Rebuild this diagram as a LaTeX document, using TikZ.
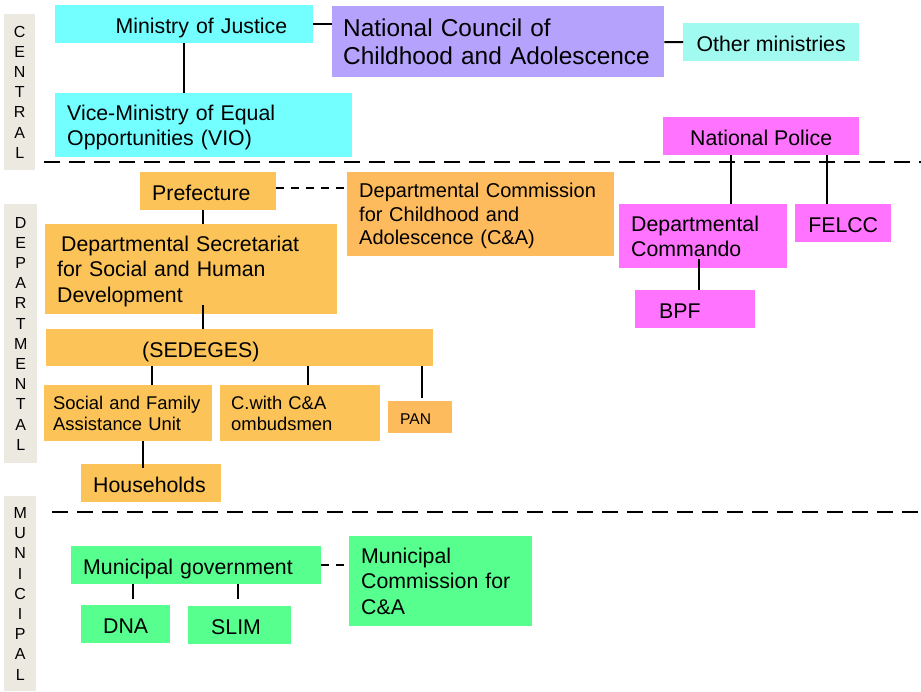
\documentclass[tikz,border=0pt]{standalone}
\usepackage{fontspec}
\setmainfont{Liberation Sans}
\usepackage{xcolor}
\usepackage{tikz}
\usetikzlibrary{positioning}
\definecolor{cyanbox}{RGB}{115,255,255}
\definecolor{councilbox}{RGB}{180,162,252}
\definecolor{otherbox}{RGB}{160,250,240}
\definecolor{policebox}{RGB}{255,115,255}
\definecolor{orangebox}{RGB}{252,196,88}
\definecolor{darkorange}{RGB}{253,187,94}
\definecolor{greenbox}{RGB}{87,255,142}
\definecolor{bandgray}{RGB}{236,233,224}
% last line of a box sits without its descender
\newcommand{\lastline}[1]{\raisebox{0pt}[\height][0pt]{#1}}
\tikzstyle{block} = [rectangle, anchor=north west, inner sep=0pt,
    font=\fontsize{21.3}{25.5}\selectfont]
\tikzstyle{single} = [block, text height=19pt, text depth=0pt]
\tikzstyle{band} = [rectangle, anchor=north west, inner sep=0pt, fill=bandgray,
    align=center, font=\fontsize{16}{20.2}\selectfont]
\tikzstyle{line} = [draw, line width=2pt]
\tikzstyle{dline} = [draw, line width=2pt, dash pattern=on 8pt off 7pt]
\tikzstyle{sep} = [draw, line width=2.5pt, dash pattern=on 16pt off 9pt]
\begin{document}
\begin{tikzpicture}[x=1pt, y=-1pt]
    \useasboundingbox (0,0) rectangle (921,691);
    % Level bands
    \node [band, minimum width=31pt, minimum height=156pt] (central) at (4,14) {C\\E\\N\\T\\R\\A\\L};
    \node [band, minimum width=33pt, minimum height=259pt] (departmental) at (4,204) {D\\E\\P\\A\\R\\T\\M\\E\\N\\T\\A\\L};
    \node [band, minimum width=32pt, minimum height=195pt] (municipal) at (4,496) {M\\U\\N\\I\\C\\I\\P\\A\\L};
    \path [sep] (44,162) -- (921,162);
    \path [sep] (52,512) -- (921,512);
    % Place nodes: central
    \node [single, fill=cyanbox, minimum width=258pt, minimum height=38pt, text width=206pt, align=right] (justice) at (55,5) {Ministry of Justice};
    \node [block, fill=councilbox, minimum width=332pt, minimum height=71pt, text width=310pt, align=left,
        font=\fontsize{24.4}{28.5}\selectfont] (council) at (332,6) {National Council of\\Childhood and Adolescence};
    \node [single, fill=otherbox, minimum width=176pt, minimum height=38pt] (others) at (683,23) {Other ministries};
    \node [block, fill=cyanbox, minimum width=297pt, minimum height=64pt, text width=273pt, align=left] (vio) at (55,93) {Vice-Ministry of Equal\\\lastline{Opportunities (VIO)}};
    % Place nodes: police
    \node [single, fill=policebox, minimum width=196pt, minimum height=38pt] (police) at (663,117) {National Police};
    \node [block, fill=policebox, minimum width=168pt, minimum height=64pt, text width=144pt, align=left] (commando) at (619,204) {Departmental\\Commando};
    \node [single, fill=policebox, minimum width=96pt, minimum height=38pt] (felcc) at (795,204) {FELCC};
    \node [single, fill=policebox, minimum width=120pt, minimum height=38pt, text width=72pt, align=left] (bpf) at (635,290) {BPF};
    % Place nodes: departmental
    \node [single, fill=orangebox, minimum width=136pt, minimum height=38pt, text width=112pt, align=left] (prefecture) at (140,172) {Prefecture};
    \node [block, fill=darkorange, minimum width=267pt, minimum height=84pt, text width=243pt, align=left,
        font=\fontsize{20}{23.5}\selectfont] (dcca) at (347,172) {Departmental Commission\\for Childhood and\\\lastline{Adolescence (C\&A)}};
    \node [block, fill=orangebox, minimum width=292pt, minimum height=90pt, text width=268pt, align=left] (secretariat) at (45,224) {\hspace*{4pt}Departmental Secretariat\\for Social and Human\\\lastline{Development}};
    \node [single, fill=orangebox, minimum width=387pt, minimum height=37pt, text width=195pt, align=left] (sedeges) at (46,329) {(SEDEGES)};
    \node [block, fill=orangebox, minimum width=168pt, minimum height=56pt, text width=150pt, align=left,
        font=\fontsize{18.4}{21.5}\selectfont] (sfau) at (44,385) {Social and Family\\Assistance Unit};
    \node [block, fill=orangebox, minimum width=160pt, minimum height=56pt, text width=138pt, align=left,
        font=\fontsize{18.4}{21.5}\selectfont] (ombudsmen) at (220,385) {C.with C\&A\\ombudsmen};
    \node [single, fill=darkorange, minimum width=64pt, minimum height=32pt, text width=40pt, align=left,
        font=\fontsize{15.6}{18}\selectfont, text height=14pt] (pan) at (388,401) {PAN};
    \node [single, fill=orangebox, minimum width=140pt, minimum height=38pt, text width=116pt, align=left] (households) at (81,464) {Households};
    % Place nodes: municipal
    \node [single, fill=greenbox, minimum width=250pt, minimum height=38pt, text width=226pt, align=left] (municipality) at (71,546) {Municipal government};
    \node [block, fill=greenbox, minimum width=183pt, minimum height=90pt, text width=159pt, align=left] (mcommission) at (349,536) {Municipal\\Commission for\\C\&A};
    \node [single, fill=greenbox, minimum width=89pt, minimum height=38pt] (dna) at (81,605) {DNA};
    \node [single, fill=greenbox, minimum width=103pt, minimum height=38pt, text width=57pt, align=left] (slim) at (188,606) {SLIM};
    % Draw edges
    \path [line] (justice) -- (justice -| council.west);
    \path [line] (council) -- (others);
    \path [line] (justice.south) -- (justice.south |- vio.north);
    \path [line] ([xshift=28pt]commando.north) -- ([xshift=28pt]commando.north |- police.south);
    \path [line] ([xshift=-16pt]felcc.north) -- ([xshift=-16pt]felcc.north |- police.south);
    \path [line] ([xshift=4pt]bpf.north) -- ([xshift=4pt,yshift=9pt]bpf.north |- commando.south);
    \path [line] ([xshift=-5pt]prefecture.south) -- ([xshift=-5pt]prefecture.south |- secretariat.north);
    \path [line] ([xshift=12pt,yshift=9pt]secretariat.south) -- ([xshift=12pt]secretariat.south |- sedeges.north);
    \path [line] ([xshift=24pt]sfau.north) -- ([xshift=24pt]sfau.north |- sedeges.south);
    \path [line] ([xshift=8pt]ombudsmen.north) -- ([xshift=8pt]ombudsmen.north |- sedeges.south);
    \path [line] ([xshift=2pt,yshift=3pt]pan.north) -- ([xshift=2pt]pan.north |- sedeges.south);
    \path [line] ([xshift=-8pt,yshift=-4pt]households.north) -- ([xshift=-8pt]households.north |- sfau.south);
    \path [line] ([xshift=7.5pt,yshift=6pt]dna.north) -- ([xshift=7.5pt]dna.north |- municipality.south);
    \path [line] ([xshift=-1.5pt,yshift=7pt]slim.north) -- ([xshift=-1.5pt]slim.north |- municipality.south);
    \path [dline] ([yshift=3pt]prefecture.east) -- ([yshift=3pt]prefecture.east -| dcca.west);
    \path [dline] (municipality.east) -- (municipality.east -| mcommission.west);
\end{tikzpicture}
\end{document}
